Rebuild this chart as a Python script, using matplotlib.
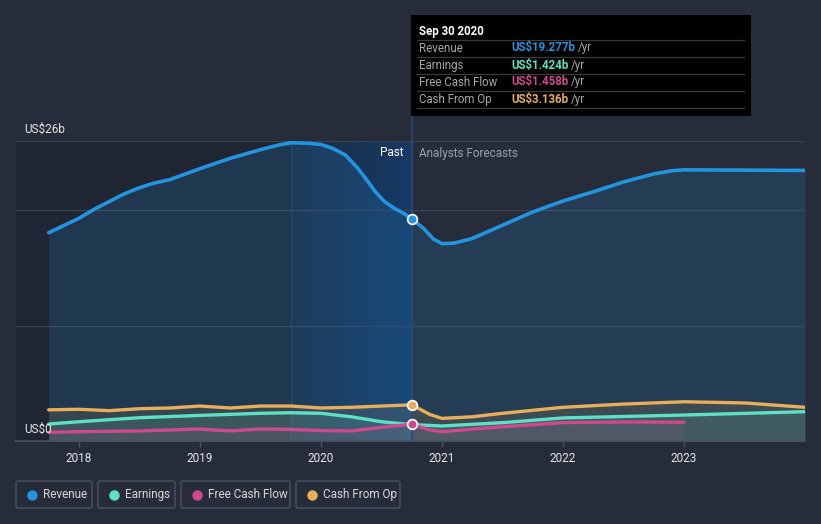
import matplotlib
matplotlib.use("Agg")
import matplotlib.pyplot as plt
import numpy as np
from matplotlib.patches import FancyBboxPatch, Rectangle
from matplotlib.colors import LinearSegmentedColormap

plt.rcParams['font.family'] = ['Roboto', 'DejaVu Sans']

# ---- data (US$ billions) ----
rev_past_x = [2017.75, 2017.9, 2018.0, 2018.12, 2018.25, 2018.37, 2018.5, 2018.62, 2018.75, 2019.0, 2019.25, 2019.5,
              2019.65, 2019.75, 2019.9, 2020.0, 2020.1, 2020.2, 2020.3, 2020.38, 2020.45, 2020.52, 2020.6, 2020.68, 2020.75]
rev_past_y = [18.05, 18.8, 19.3, 20.05, 20.75, 21.4, 21.95, 22.35, 22.65, 23.6, 24.5, 25.25,
              25.65, 25.85, 25.8, 25.7, 25.35, 24.8, 23.7, 22.6, 21.6, 20.8, 20.2, 19.75, 19.277]
rev_fc_x = [2020.75, 2020.85, 2020.93, 2021.0, 2021.1, 2021.25, 2021.5, 2021.75, 2022.0, 2022.25, 2022.5, 2022.75,
            2022.9, 2023.0, 2024.0]
rev_fc_y = [19.277, 18.4, 17.5, 17.1, 17.15, 17.55, 18.7, 19.85, 20.8, 21.6, 22.45, 23.15,
            23.42, 23.5, 23.45]

earn_past_x = [2017.75, 2018.0, 2018.5, 2019.0, 2019.5, 2019.75, 2020.0, 2020.25, 2020.5, 2020.75]
earn_past_y = [1.47, 1.67, 2.02, 2.22, 2.4, 2.45, 2.4, 2.1, 1.67, 1.424]
earn_fc_x = [2020.75, 2021.0, 2021.5, 2022.0, 2023.0, 2024.0]
earn_fc_y = [1.424, 1.3, 1.59, 2.0, 2.25, 2.54]

fcf_past_x = [2017.75, 2018.0, 2018.5, 2019.0, 2019.25, 2019.5, 2019.75, 2020.0, 2020.25, 2020.5, 2020.75]
fcf_past_y = [0.75, 0.81, 0.87, 1.04, 0.87, 1.04, 1.01, 0.9, 0.87, 1.19, 1.458]
fcf_fc_x = [2020.75, 2020.9, 2021.0, 2021.5, 2022.0, 2022.5, 2023.0]
fcf_fc_y = [1.458, 0.95, 0.81, 1.24, 1.59, 1.65, 1.62]

cfo_past_x = [2017.75, 2018.0, 2018.25, 2018.5, 2018.75, 2019.0, 2019.25, 2019.5, 2019.75, 2020.0, 2020.25, 2020.5, 2020.75]
cfo_past_y = [2.7, 2.75, 2.63, 2.8, 2.86, 3.03, 2.86, 3.03, 3.03, 2.86, 2.92, 3.03, 3.136]
cfo_fc_x = [2020.75, 2020.9, 2021.0, 2021.25, 2021.5, 2022.0, 2022.5, 2023.0, 2023.5, 2024.0]
cfo_fc_y = [3.136, 2.3, 1.96, 2.1, 2.4, 2.92, 3.2, 3.4, 3.3, 2.92]

series_names = ["Revenue", "Earnings", "Free Cash Flow", "Cash From Op"]
series_colors = ["#2394df", "#5ee0c4", "#d0488d", "#e8ae5a"]
tooltip_values = ["US$19.277b", "US$1.424b", "US$1.458b", "US$3.136b"]
tooltip_date = "Sep 30 2020"
xticks = [2018, 2019, 2020, 2021, 2022, 2023]
now_x = 2020.75
hl_start = 2019.75

BG = "#262c39"
W, H = 821, 524
fig = plt.figure(figsize=(W / 100, H / 100), dpi=100, facecolor=BG)
ax = fig.add_axes([16 / W, (H - 441) / H, (805 - 16) / W, (441 - 141) / H])
ax.set_facecolor(BG)
x0, x1 = 2017.48, 2024.0
ax.set_xlim(x0, x1)
ax.set_ylim(0, 26)

# past shading
ax.add_patch(Rectangle((x0, 0), now_x - x0, 26, facecolor="#1f2533", edgecolor="none", zorder=0))
# highlight gradient (last year)
grad = np.linspace(0, 1, 256).reshape(1, -1)
cmap = LinearSegmentedColormap.from_list("g", ["#1e2b40", "#163a66"])
ax.imshow(grad, extent=[hl_start, now_x, 0, 26], aspect="auto", cmap=cmap, zorder=0.5, interpolation="bicubic")
ax.axvline(hl_start, color="#2a3f5f", lw=0.8, zorder=0.6)

# grid lines
for g in [10, 20, 26]:
    ax.axhline(g, color="#3a4252", lw=0.9, zorder=1)

def draw(px, py, fx, fy, color, alpha_fill, lw=2.4):
    xs = list(px) + list(fx[1:])
    ys = list(py) + list(fy[1:])
    ax.fill_between(xs, 0, ys, color=color, alpha=alpha_fill, lw=0, zorder=2)
    ax.plot(xs, ys, color=color, lw=lw, zorder=4, solid_capstyle="round", solid_joinstyle="round")

draw(rev_past_x, rev_past_y, rev_fc_x, rev_fc_y, series_colors[0], 0.17, lw=2.6)
draw(cfo_past_x, cfo_past_y, cfo_fc_x, cfo_fc_y, series_colors[3], 0.12)
draw(earn_past_x, earn_past_y, earn_fc_x, earn_fc_y, series_colors[1], 0.12)
draw(fcf_past_x, fcf_past_y, fcf_fc_x, fcf_fc_y, series_colors[2], 0.10)

# vertical now line
ax.plot([now_x, now_x], [0, 28.3], color="#2d4b75", lw=1.2, zorder=3, clip_on=False)

# markers
for yv, c in [(rev_past_y[-1], series_colors[0]), (cfo_past_y[-1], series_colors[3]),
              (fcf_past_y[-1], series_colors[2])]:
    ax.plot([now_x], [yv], "o", ms=7, mfc=c, mec="white", mew=1.2, zorder=6)

# axes styling
for s in ["top", "right", "left"]:
    ax.spines[s].set_visible(False)
ax.spines["bottom"].set_color("#4a5262")
ax.spines["bottom"].set_linewidth(1.2)
ax.set_yticks([])
ax.set_xticks(xticks)
ax.set_xticklabels([str(t) for t in xticks], color="#e6e6e6", fontsize=8.5)
ax.tick_params(axis="x", colors="#4a5262", length=4, width=1, pad=4, labelcolor="#e6e6e6")

# y labels
ax.text(24 / W, (H - 129) / H, "US$26b", transform=fig.transFigure, color="#e6e6e6", fontsize=8.5, va="center", ha="left")
ax.text(24 / W, (H - 429) / H, "US$0", transform=fig.transFigure, color="#e6e6e6", fontsize=8.5, va="center", ha="left", zorder=10)

# Past / Analysts Forecasts
fig.text(403 / W, (H - 153) / H, "Past", color="#ffffff", fontsize=8.5, ha="right", va="center")
fig.text(419 / W, (H - 153) / H, "Analysts Forecasts", color="#9aa0aa", fontsize=8.5, ha="left", va="center")

# tooltip
tx0, ty0, tx1, ty1 = 411, 15, 751, 116
fig.patches.append(Rectangle((tx0 / W, (H - ty1) / H), (tx1 - tx0) / W, (ty1 - ty0) / H,
                             transform=fig.transFigure, facecolor="#000000", edgecolor="none", zorder=20))
fig.text(419 / W, (H - 31) / H, tooltip_date, color="white", fontsize=8.3, fontweight="bold", va="center", ha="left", zorder=21)
row_y = [48, 65, 82, 99]
for i, (nm, val, c) in enumerate(zip(series_names, tooltip_values, series_colors)):
    ly = row_y[i] - 8.5
    fig.add_artist(plt.Line2D([417 / W, 744 / W], [(H - ly) / H] * 2, color="#3a3a3a", lw=0.9, zorder=21))
    fig.text(419 / W, (H - row_y[i]) / H, nm, color="#a8a8a8", fontsize=8.3, va="center", ha="left", zorder=21)
    t = fig.text(511 / W, (H - row_y[i]) / H, val, color=c, fontsize=8.3, fontweight="semibold", va="center", ha="left", zorder=21)
    fig.canvas.draw()
    bb = t.get_window_extent()
    fig.text((bb.x1 + 3) / W, (H - row_y[i]) / H, "/yr", color="#a8a8a8", fontsize=8.3, va="center", ha="left", zorder=21)
fig.add_artist(plt.Line2D([417 / W, 744 / W], [(H - 108) / H] * 2, color="#3a3a3a", lw=0.9, zorder=21))

# legend
boxes = [(16, 92), (98, 175), (181, 290), (296, 400)]
for (bx0, bx1), nm, c in zip(boxes, series_names, series_colors):
    fig.patches.append(FancyBboxPatch((bx0 / W, (H - 508) / H), (bx1 - bx0) / W, 27 / H,
                                      boxstyle="round,pad=0,rounding_size=0.003", transform=fig.transFigure,
                                      facecolor="none", edgecolor="#4a5262", lw=1.0))
    fig.add_artist(plt.Line2D([(bx0 + 16) / W], [(H - 494.5) / H], marker="o", ms=6.5, color=c, mec=c))
    fig.text((bx0 + 27) / W, (H - 494.5) / H, nm, color="#d8d8d8", fontsize=8.5, va="center", ha="left")

fig.savefig("out.png", dpi=100, facecolor=BG)
